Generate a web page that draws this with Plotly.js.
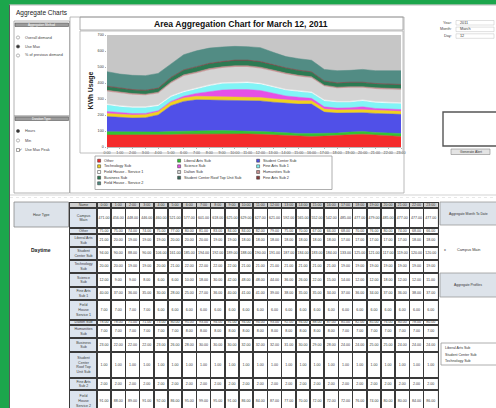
<!DOCTYPE html>
<html><head><meta charset="utf-8">
<script src="https://cdn.plot.ly/plotly-3.0.1.min.js"></script>
<style>html,body{margin:0;padding:0;background:#fff;overflow:hidden}#chart{width:496px;height:408px}</style>
</head><body><div id="chart"></div>
<script>
// ---------------- data ----------------
const hours = ["0:00","1:00","2:00","3:00","4:00","5:00","6:00","7:00","8:00","9:00","10:00","11:00","12:00","13:00","14:00","15:00","16:00","17:00","18:00","19:00","20:00","21:00","22:00","23:00"];
const seriesNames = ["Other","Liberal Arts Sub","Student Center Sub","Technology Sub","Science Sub","Fine Arts Sub 1","Field House - Service 1","Dalton Sub","Humanities Sub","Business Sub","Student Center Roof Top Unit Sub","Fine Arts Sub 2","Field House - Service 2"];
const tableRowNames = ["Campus<br>Main","Other","Liberal Arts<br>Sub","Student<br>Center Sub","Technology<br>Sub","Science<br>Sub","Fine Arts<br>Sub 1","Field<br>House<br>Service 1","Dalton Sub","Humanities<br>Sub","Business<br>Sub","Student<br>Center<br>Roof Top<br>Unit Sub","Fine Arts<br>Sub 2","Field<br>House<br>Service 2"];
const other        = [75,75,74,74,75,77,80,81,83,84,84,82,79,75,70,67,66,68,70,76,80,74,68,66];
const liberalArts  = [21,20,19,19,19,20,20,20,19,19,18,18,18,18,18,18,18,17,17,17,17,17,18,18];
const studentCenter= [94,90,88,90,106,161,185,194,192,189,188,190,191,187,184,183,184,133,125,121,117,119,120,120];
const technology   = [20,20,19,19,20,21,22,22,22,22,21,21,21,21,21,21,21,19,19,19,19,19,19,19];
const science      = [12,9,9,8,6,6,10,18,30,42,48,48,44,36,26,22,15,14,12,12,18,12,12,11];
const fineArts1    = [40,37,36,35,30,28,25,27,36,40,41,41,39,38,35,35,34,37,36,34,37,36,38,37];
const fieldHouse1  = [7,7,7,7,6,6,6,6,6,6,6,6,6,6,6,6,6,6,6,6,6,6,6,6];
const dalton       = [78,78,75,71,73,80,95,93,94,91,94,94,93,92,94,88,87,85,82,85,76,80,78,80];
const humanities   = [7,7,7,7,7,7,8,8,8,8,8,8,8,8,8,8,8,7,7,7,7,7,7,7];
const business     = [23,22,22,22,23,26,28,30,30,30,32,32,32,31,30,29,28,24,24,25,25,24,24,24];
const scRoofTop    = [1,1,1,1,1,1,1,1,1,1,1,1,1,1,1,1,1,1,1,1,1,1,1,1];
const fineArts2    = [2,2,2,2,2,2,2,2,2,2,2,2,2,2,2,2,2,2,2,2,2,2,2,2];
const fieldHouse2  = [91,88,89,91,92,86,95,99,95,91,86,84,87,77,70,72,72,72,76,74,80,80,84,86];
const seriesColors = ["#f42b2b","#33c433","#5050e8","#f0d21e","#e650e6","#80f4f6","#ffffff","#d4d4d4","#c68e8e","#2c7a52","#3c6a5c","#8a3a3a","#528c84"];

const allSeries = [other,liberalArts,studentCenter,technology,science,fineArts1,fieldHouse1,dalton,humanities,business,scRoofTop,fineArts2,fieldHouse2];

// ---------------- helpers ----------------
const W = 496, H = 408;
const PX = x => x / W, PY = y => 1 - y / H;
const FONT = "Liberation Sans, Arial, sans-serif";
const shapes = [], annotations = [];
function rect(x0,y0,x1,y1,fill,line,lw,layer){shapes.push({type:'rect',xref:'paper',yref:'paper',x0:PX(x0),x1:PX(x1),y0:PY(y1),y1:PY(y0),fillcolor:fill||'rgba(0,0,0,0)',line:{color:line||'rgba(0,0,0,0)',width:lw===undefined?0.8:lw},layer:layer||'above'});}
function hline(x0,x1,y,color,w,dash){shapes.push({type:'line',xref:'paper',yref:'paper',x0:PX(x0),x1:PX(x1),y0:PY(y),y1:PY(y),line:{color:color,width:w,dash:dash||'solid'}});}
function vline(x,y0,y1,color,w){shapes.push({type:'line',xref:'paper',yref:'paper',x0:PX(x),x1:PX(x),y0:PY(y0),y1:PY(y1),line:{color:color,width:w}});}
function circ(x,y,r,fill,line){shapes.push({type:'circle',xref:'paper',yref:'paper',x0:PX(x-r),x1:PX(x+r),y0:PY(y+r),y1:PY(y-r),fillcolor:fill,line:{color:line,width:0.6}});}
function txt(x,y,t,size,color,anchor,bold,angle){annotations.push({xref:'paper',yref:'paper',x:PX(x),y:PY(y),text:bold?'<b>'+t+'</b>':t,showarrow:false,xanchor:anchor||'left',yanchor:'middle',textangle:angle||0,font:{family:FONT,size:size,color:color||'#333'}});}

// ---------------- window frame ----------------
rect(0,0,9,H,'#1ca64c',null,0);
rect(0,0,W,4.5,'#1ca64c',null,0);
vline(9.5,4.5,H,'#5a5a5a',1);
hline(9.5,W,5,'#8a8a8a',0.6);
txt(14,13,'Aggregate Charts',6.5,'#222');

// left panel
rect(14,21,69.5,116,null,'#a0a0a0',0.8);
rect(15,23,68.5,26.5,'#9c9c9c','#555',0.6);
txt(41.5,24.8,'Aggregation Method',3,'#fff','center');
circ(18,37.5,1.6,'#fff','#888'); txt(23,37.5,'Overall demand',3.8,'#444');
circ(18,46.5,1.6,'#333','#555'); txt(23,46.5,'Use Max',3.8,'#444');
circ(18,55.5,1.6,'#fff','#888'); txt(23,55.5,'% of previous demand',3.8,'#444');
rect(14,116,69.5,193,null,'#a0a0a0',0.8);
rect(15,117,68.5,120.5,'#9c9c9c','#555',0.6);
txt(41.5,118.8,'Duration Type',3,'#fff','center');
circ(18,131,1.6,'#333','#555'); txt(23,131,'Hours',3.8,'#444');
circ(18,140.5,1.6,'#fff','#888'); txt(23,140.5,'Min',3.8,'#444');
rect(16.5,148.5,19.5,151.5,'#fff','#666',0.6); txt(17.2,150,'✓',3.5,'#222'); txt(23,150,'Use Max Peak',3.8,'#444');

// chart container
rect(70,17,404,193,null,'#a8a8a8',0.8);
rect(80,17,403,30,null,'#9a9a9a',0.8);
txt(241,23.8,'Area Aggregation Chart for March 12, 2011',8.6,'#111','center',true);
rect(80,31,403,153,null,'#b0b0b0',0.8);
txt(90.5,91,'KWh Usage',6.8,'#222','center',true,-90);
rect(95,156,332,189.5,'#fff','#9a9a9a',0.8);

// right panel
txt(454,22.7,'Year:',3.8,'#444','right'); rect(456,20.5,494,25,'#fff','#c0c0c0',0.5); txt(457.5,22.7,'2011',3.8,'#333');
txt(454,29.3,'Month:',3.8,'#444','right'); rect(456,27.1,494,31.6,'#fff','#c0c0c0',0.5); txt(457.5,29.3,'March',3.8,'#333');
txt(454,36,'Day:',3.8,'#444','right'); rect(456,33.8,494,38.3,'#fff','#c0c0c0',0.5); txt(457.5,36,'12',3.8,'#333');
rect(443,112,498,146,'#fff','#555',1.4);
rect(451,149,490,154.5,'#e4e4e4','#888',0.6); txt(470.5,151.8,'Generate Alert',3.4,'#333','center');

// separator under chart
hline(10,W,195,'#c8c8c8',0.8);
hline(10,W,197.5,'#e2e2e2',0.8,'dot');

// lower left / right controls
rect(14,202,68.5,227,'#dde3ea','#8a8a8a',0.8); txt(41,214.5,'Hour Type',3.6,'#333','center');
txt(41,250,'Daytime',5,'#222','center',true);
rect(440,202,498,225,'#dde3ea','#9a9a9a',0.8); txt(468,213.5,'Aggregate Month To Date',3.4,'#333','center');
txt(442,250,'x',3.8,'#333','left'); txt(468,250,'Campus Main',3.8,'#333','center');
rect(440,273,498,297,'#dde3ea','#9a9a9a',0.8); txt(468,285,'Aggregate Profiles',3.4,'#333','center');
rect(441,343,498,365,'#fff','#9a9a9a',0.8);
txt(443,348,'Liberal Arts Sub',3.6,'#333'); txt(443,354.5,'Student Center Sub',3.6,'#333'); txt(443,361,'Technology Sub',3.6,'#333');

// ---------------- area chart ----------------
const traces = allSeries.map((vals,i)=>({
  type:'scatter', mode:'lines', x:hours, y:vals, name:seriesNames[i],
  stackgroup:'one', line:{width:0.5,color:seriesColors[i]}, fillcolor:seriesColors[i],
  xaxis:'x', yaxis:'y', hoverinfo:'skip'
}));

// manual legend (3 columns, row-major)
const legCols = [102,182,261], legRows = [160.7,166.3,172,177.7,183.3];
seriesNames.forEach((n,i)=>{
  const x = legCols[i%3], y = legRows[Math.floor(i/3)];
  rect(x-4.4,y-1.5,x-1.4,y+1.5,seriesColors[i],'#333',0.5);
  txt(x,y,n,3.8,'#333');
});

// ---------------- table ----------------
const colB = [70,97]; for(let k=1;k<=24;k++) colB.push(97+14.2*k);
const rowB = [203,208,228,234,247,260,273,287,300,320,325,338,352,378,390,412];
const tx=[], ty=[], tt=[], tsz=[];
function cellText(ci,ri,t){tx.push((colB[ci]+colB[ci+1])/2); ty.push((rowB[ri]+rowB[ri+1])/2); tt.push(t);}
cellText(0,0,'Name');
hours.forEach((h,k)=>cellText(k+1,0,h));
const totals = hours.map((h,k)=>allSeries.reduce((s,a)=>s+a[k],0));
const tableRows = [totals].concat(allSeries);
tableRows.forEach((vals,r)=>{
  cellText(0,r+1,tableRowNames[r]);
  vals.forEach((v,k)=>cellText(k+1,r+1,v.toFixed(2)));
});
// table fills
shapes.push({type:'rect',xref:'x2',yref:'y2',x0:70,x1:437.8,y0:203,y1:408,fillcolor:'#ffffff',line:{width:0},layer:'below'});
shapes.push({type:'rect',xref:'x2',yref:'y2',x0:70,x1:437.8,y0:203,y1:208,fillcolor:'#cfcfcf',line:{width:0},layer:'below'});
shapes.push({type:'rect',xref:'x2',yref:'y2',x0:70,x1:97,y0:208,y1:408,fillcolor:'#dce4ee',line:{width:0},layer:'below'});
traces.push({type:'scatter',mode:'text',x:tx,y:ty,text:tt,textposition:'middle center',
  textfont:{family:FONT,size:3.6,color:'#3a3a3a'},xaxis:'x2',yaxis:'y2',hoverinfo:'skip',cliponaxis:true,showlegend:false});

const layout = {
  width:W, height:H, autosize:false, margin:{l:0,r:0,t:0,b:0,pad:0},
  paper_bgcolor:'#ffffff', plot_bgcolor:'#c6c6c6', showlegend:false,
  font:{family:FONT,size:4,color:'#333'},
  xaxis:{domain:[PX(107),PX(401)],anchor:'y',type:'category',range:[0,23],tickmode:'array',tickvals:hours,ticktext:hours,
    tickangle:0,tickfont:{size:3.7,color:'#333'},ticks:'outside',ticklen:1.5,tickcolor:'#666',tickwidth:0.5,
    showgrid:false,zeroline:false,showline:true,linecolor:'#888',linewidth:0.6,automargin:false},
  yaxis:{domain:[PY(147),PY(35)],anchor:'x',range:[0,700],dtick:100,tickfont:{size:3.7,color:'#333'},
    ticks:'outside',ticklen:1.5,tickcolor:'#666',tickwidth:0.5,showgrid:false,zeroline:false,showline:false,automargin:false},
  xaxis2:{domain:[PX(70),PX(437.8)],anchor:'y2',range:[70,437.8],tickmode:'array',tickvals:colB,showticklabels:false,ticks:'',
    showgrid:true,gridcolor:'#3a3a3a',gridwidth:1.5,zeroline:false,showline:true,mirror:true,linecolor:'#3a3a3a',linewidth:1.5,fixedrange:true},
  yaxis2:{domain:[0,PY(203)],anchor:'x2',range:[408,203],tickmode:'array',tickvals:rowB,showticklabels:false,ticks:'',
    showgrid:true,gridcolor:'#3a3a3a',gridwidth:1.5,zeroline:false,showline:true,mirror:true,linecolor:'#3a3a3a',linewidth:1.5,fixedrange:true},
  shapes:shapes, annotations:annotations
};
Plotly.newPlot('chart',traces,layout,{staticPlot:true,displayModeBar:false});
</script>
</body></html>
